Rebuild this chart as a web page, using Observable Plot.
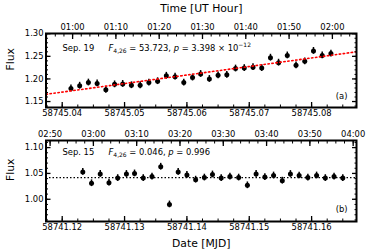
<!DOCTYPE html>
<html>
<head>
<meta charset="utf-8">
<script src="https://cdn.jsdelivr.net/npm/d3@7"></script>
<script src="https://cdn.jsdelivr.net/npm/@observablehq/plot@0.6"></script>
<style>
  html, body { margin: 0; padding: 0; background: white; }
  svg { display: block; }
</style>
</head>
<body>
<div id="chart"></div>
<script>
// ---------- Panel (a): Sep. 19 ----------
const timesA = [58745.0414, 58745.0428, 58745.0442, 58745.0456, 58745.0470, 58745.0484, 58745.0497, 58745.0511,
  58745.0525, 58745.0539, 58745.0553, 58745.0567, 58745.0581, 58745.0595, 58745.0609, 58745.0622,
  58745.0636, 58745.0650, 58745.0664, 58745.0678, 58745.0692, 58745.0706, 58745.0720, 58745.0734,
  58745.0747, 58745.0761, 58745.0775, 58745.0789, 58745.0803, 58745.0817, 58745.0831];
const fluxA = [1.179, 1.185, 1.192, 1.190, 1.176, 1.188, 1.189, 1.186,
  1.186, 1.192, 1.195, 1.207, 1.205, 1.192, 1.203, 1.211,
  1.200, 1.208, 1.209, 1.223, 1.224, 1.226, 1.224, 1.247,
  1.236, 1.252, 1.230, 1.239, 1.262, 1.252, 1.256];
const errA = 0.0075;
const trendAX = [58745.0374, 58745.0872];
const trendAY = [1.166, 1.260];
const xTicksA = [58745.04, 58745.05, 58745.06, 58745.07, 58745.08];
const yTicksA = [1.15, 1.20, 1.25, 1.30];
const topLabelsA = ["01:00", "01:10", "01:20", "01:30", "01:40", "01:50", "02:00"];

// ---------- Panel (b): Sep. 15 ----------
const timesB = [58741.1233, 58741.1247, 58741.1261, 58741.1275, 58741.1289, 58741.1303, 58741.1316, 58741.1330,
  58741.1344, 58741.1358, 58741.1372, 58741.1386, 58741.1400, 58741.1414, 58741.1428, 58741.1441,
  58741.1455, 58741.1469, 58741.1483, 58741.1497, 58741.1511, 58741.1525, 58741.1539, 58741.1553,
  58741.1566, 58741.1580, 58741.1594, 58741.1608, 58741.1622, 58741.1636, 58741.1650];
const fluxB = [1.053, 1.031, 1.049, 1.032, 1.041, 1.049, 1.050, 1.041,
  1.044, 1.063, 0.990, 1.053, 1.047, 1.038, 1.042, 1.048,
  1.041, 1.044, 1.042, 1.027, 1.049, 1.043, 1.046, 1.036,
  1.049, 1.046, 1.042, 1.046, 1.041, 1.044, 1.041];
const errB = 0.0065;
const meanB = 1.042;
const xTicksB = [58741.12, 58741.13, 58741.14, 58741.15, 58741.16];
const yTicksB = [1.00, 1.05, 1.10];
const topLabelsB = ["02:50", "03:00", "03:10", "03:20", "03:30", "03:40", "03:50", "04:00"];

// ---------- helpers ----------
const hm2mjd = (day, s) => { const [h, m] = s.split(":").map(Number); return day + (h * 60 + m) / 1440; };
const mjd2hm = d => { const mins = Math.round((d - Math.floor(d)) * 1440); return String(Math.floor(mins / 60)).padStart(2, "0") + ":" + String(mins % 60).padStart(2, "0"); };
const rangeStep = (a, b, s) => d3.range(Math.ceil(a / s - 1e-9), Math.floor(b / s + 1e-9) + 1).map(k => +(k * s).toFixed(6));

const FONT = "DejaVu Sans";
const TITLE = 10.8;

function panel(o) {
  const data = o.times.map((t, i) => ({t, f: o.flux[i]}));
  const [x0, x1] = o.xDomain, [y0, y1] = o.yDomain;
  const day = Math.floor(x0);
  const topMajor = o.topLabels.map(s => hm2mjd(day, s));
  const minorTop = rangeStep((x0 - day) * 720, (x1 - day) * 720, 1).map(k => day + k / 720);
  const minorX = rangeStep(x0 - day, x1 - day, 0.0025).map(v => day + v);
  const minorY = rangeStep(y0, y1, 0.01);
  const marks = [
    Plot.ruleX(data, {x: "t", y1: d => d.f - o.err, y2: d => d.f + o.err, stroke: "black", strokeWidth: 1.5}),
    Plot.dot(data, {x: "t", y: "f", r: 2.5, fill: "black"}),
    ...o.extra,
    // bottom axis
    Plot.axisX(minorX, {anchor: "bottom", tickSize: -2.5, tickFormat: () => "", label: null, strokeWidth: 1}),
    Plot.axisX(o.xTicks, {anchor: "bottom", tickSize: -5, tickPadding: 7.5, tickFormat: d => d.toFixed(2), label: null, strokeWidth: 1.3, fontSize: 8.4}),
    // top axis (UT)
    Plot.axisX(minorTop, {anchor: "top", tickSize: -2.5, tickFormat: () => "", label: null, strokeWidth: 1}),
    Plot.axisX(topMajor, {anchor: "top", tickSize: -5, tickPadding: 9, tickFormat: mjd2hm, label: null, strokeWidth: 1.3, fontSize: 8.4}),
    // left axis
    Plot.axisY(minorY, {anchor: "left", tickSize: -2.5, tickFormat: () => "", label: null, strokeWidth: 1}),
    Plot.axisY(o.yTicks, {anchor: "left", tickSize: -5, tickPadding: 7.5, tickFormat: d => d.toFixed(2), label: null, strokeWidth: 1.3, fontSize: 8.4}),
    // right axis (ticks only)
    Plot.axisY(minorY, {anchor: "right", tickSize: -2.5, tickFormat: () => "", label: null, strokeWidth: 1}),
    Plot.axisY(o.yTicks, {anchor: "right", tickSize: -5, tickFormat: () => "", label: null, strokeWidth: 1.3}),
    Plot.frame({stroke: "black", strokeWidth: 2}),
    Plot.text(["Flux"], {frameAnchor: "left", rotate: -90, dx: -35, fontSize: TITLE, fill: "black"}),
    Plot.text([o.date], {frameAnchor: "top-left", dx: 16.5, dy: o.textDy, textAnchor: "start", lineAnchor: "middle", fontSize: 8.4, fill: "black"}),
    Plot.text([o.fKey], {frameAnchor: "top-left", dx: 62.5, dy: o.textDy, textAnchor: "start", lineAnchor: "middle", fontSize: 8.4, fill: "black"}),
    Plot.text([o.tag], {frameAnchor: "bottom-right", dx: -9, dy: o.tagDy, textAnchor: "end", lineAnchor: "middle", fontSize: 8.4, fill: "black"}),
    ...o.titles
  ];
  const svg = Plot.plot({
    width: 374, height: o.height,
    marginLeft: 45.5, marginRight: 18, marginTop: o.marginTop, marginBottom: o.marginBottom,
    x: {type: "linear", domain: o.xDomain},
    y: {type: "linear", domain: o.yDomain},
    style: {fontFamily: FONT, fontSize: "8.4px", color: "black", background: "white", overflow: "visible"},
    marks
  });
  // rich text for the F-statistic annotation
  d3.select(svg).selectAll("text").filter(function () { return this.textContent === o.fKey; }).each(function () {
    const t = d3.select(this);
    t.text(null);
    t.append("tspan").attr("font-style", "italic").text("F");
    t.append("tspan").attr("font-size", "6px").attr("dy", "2").text(o.fSub);
    t.append("tspan").attr("dy", "-2").text(" = " + o.fVal + ", ");
    t.append("tspan").attr("font-style", "italic").text("p");
    t.append("tspan").text(" = " + o.pVal);
    if (o.pExp) {
      t.append("tspan").text(" × 10");
      t.append("tspan").attr("font-size", "6px").attr("dy", "-3.5").text(o.pExp);
    }
  });
  return svg;
}

const chart = document.getElementById("chart");
chart.appendChild(panel({
  times: timesA, flux: fluxA, err: errA,
  xDomain: [58745.0374, 58745.0872], yDomain: [1.1368, 1.3005],
  xTicks: xTicksA, yTicks: yTicksA, topLabels: topLabelsA,
  height: 124, marginTop: 33, marginBottom: 17,
  date: "Sep. 19", fKey: "__FA__", fSub: "4,26", fVal: "53.723", pVal: "3.398", pExp: "−12",
  tag: "(a)", textDy: 14.7, tagDy: -11,
  extra: [Plot.line(trendAX.map((x, i) => ({x, y: trendAY[i]})), {x: "x", y: "y", stroke: "#ff0000", strokeWidth: 1.6, strokeDasharray: "1.4,2.6", clip: true})],
  titles: [Plot.text(["Time [UT Hour]"], {frameAnchor: "top", dy: -25, fontSize: TITLE, fill: "black", lineAnchor: "middle"})]
}));
chart.appendChild(panel({
  times: timesB, flux: fluxB, err: errB,
  xDomain: [58741.1174, 58741.1672], yDomain: [0.957, 1.1137],
  xTicks: xTicksB, yTicks: yTicksB, topLabels: topLabelsB,
  height: 125, marginTop: 16, marginBottom: 28,
  date: "Sep. 15", fKey: "__FB__", fSub: "4,26", fVal: "0.046", pVal: "0.996", pExp: null,
  tag: "(b)", textDy: 12, tagDy: -12,
  extra: [Plot.ruleY([meanB], {stroke: "black", strokeWidth: 1.3, strokeDasharray: "1.5,2"})],
  titles: [Plot.text(["Date [MJD]"], {frameAnchor: "bottom", dy: 22, fontSize: TITLE, fill: "black", lineAnchor: "middle"})]
}));
</script>
</body>
</html>
